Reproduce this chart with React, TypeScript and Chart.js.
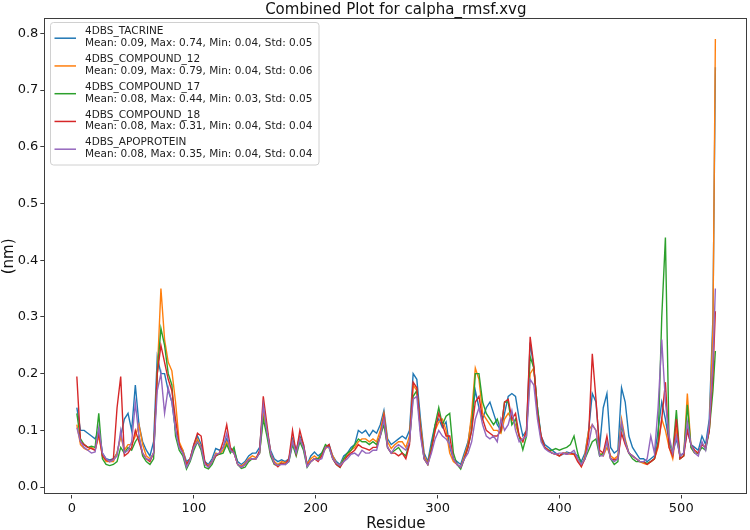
import { useEffect, useRef } from "react";
import { Chart, registerables } from "chart.js";

Chart.register(...registerables);

const TITLE = "Combined Plot for calpha_rmsf.xvg";
const X_LABEL = "Residue";
const Y_LABEL = "(nm)";
const X_TICKS = [0, 100, 200, 300, 400, 500];
const Y_TICKS = [0, 0.1, 0.2, 0.3, 0.4, 0.5, 0.6, 0.7, 0.8];

const RESIDUES = [
  4, 7, 10, 13, 16, 19, 22, 25, 28, 31,
  34, 37, 40, 43, 46, 49, 52, 55, 58, 61,
  64, 67, 70, 73, 76, 79, 82, 85, 88, 91,
  94, 97, 100, 103, 106, 109, 112, 115, 118, 121,
  124, 127, 130, 133, 136, 139, 142, 145, 148, 151,
  154, 157, 160, 163, 166, 169, 172, 175, 178, 181,
  184, 187, 190, 193, 196, 199, 202, 205, 208, 211,
  214, 217, 220, 223, 226, 229, 232, 235, 238, 241,
  244, 247, 250, 253, 256, 259, 262, 265, 268, 271,
  274, 277, 280, 283, 286, 289, 292, 295, 298, 301,
  304, 307, 310, 313, 316, 319, 322, 325, 328, 331,
  334, 337, 340, 343, 346, 349, 352, 355, 358, 361,
  364, 367, 370, 373, 376, 379, 382, 385, 388, 391,
  394, 397, 400, 403, 406, 409, 412, 415, 418, 421,
  424, 427, 430, 433, 436, 439, 442, 445, 448, 451,
  454, 457, 460, 463, 466, 469, 472, 475, 478, 481,
  484, 487, 490, 493, 496, 499, 502, 505, 508, 511,
  514, 517, 520, 523, 526, 528,
];

const TACRINE = [
  0.14, 0.10, 0.10, 0.095, 0.09, 0.085, 0.10, 0.06, 0.05, 0.048,
  0.05, 0.06, 0.09, 0.12, 0.13, 0.10, 0.18, 0.11, 0.08, 0.065,
  0.055, 0.08, 0.23, 0.20, 0.20, 0.17, 0.15, 0.10, 0.075, 0.065,
  0.045, 0.05, 0.075, 0.09, 0.075, 0.045, 0.04, 0.05, 0.068, 0.065,
  0.07, 0.085, 0.068, 0.065, 0.045, 0.04, 0.045, 0.055, 0.06, 0.06,
  0.07, 0.14, 0.10, 0.065, 0.05, 0.045, 0.048, 0.045, 0.05, 0.085,
  0.065, 0.09, 0.075, 0.04, 0.055, 0.062, 0.055, 0.06, 0.07, 0.075,
  0.055, 0.045, 0.04, 0.055, 0.06, 0.07, 0.075, 0.10, 0.095, 0.10,
  0.09, 0.10, 0.095, 0.11, 0.135, 0.085, 0.075, 0.08, 0.085, 0.09,
  0.085, 0.10, 0.20, 0.19, 0.12, 0.06, 0.045, 0.08, 0.11, 0.12,
  0.105, 0.115, 0.07, 0.05, 0.045, 0.04, 0.06, 0.08, 0.12, 0.17,
  0.14, 0.12, 0.14, 0.15, 0.13, 0.11, 0.10, 0.13, 0.16, 0.165,
  0.16, 0.12, 0.09, 0.10, 0.255, 0.21, 0.14, 0.09, 0.075, 0.07,
  0.065, 0.06, 0.055, 0.058, 0.062, 0.06, 0.06, 0.055, 0.045, 0.06,
  0.10, 0.165, 0.15, 0.07, 0.14, 0.165, 0.07, 0.06, 0.065, 0.175,
  0.15, 0.09, 0.07, 0.06, 0.05, 0.05, 0.045, 0.05, 0.055, 0.10,
  0.15, 0.12, 0.08, 0.06, 0.085, 0.055, 0.06, 0.10, 0.075, 0.07,
  0.065, 0.09, 0.075, 0.12, 0.30, 0.74,
];

const COMPOUND_12 = [
  0.11, 0.075, 0.068, 0.065, 0.07, 0.065, 0.09, 0.055, 0.045, 0.045,
  0.045, 0.06, 0.09, 0.065, 0.075, 0.075, 0.09, 0.11, 0.075, 0.055,
  0.05, 0.06, 0.20, 0.35, 0.26, 0.22, 0.205, 0.15, 0.08, 0.065,
  0.04, 0.05, 0.07, 0.085, 0.07, 0.04, 0.038, 0.045, 0.06, 0.058,
  0.065, 0.08, 0.065, 0.06, 0.04, 0.037, 0.042, 0.05, 0.055, 0.052,
  0.06, 0.13, 0.10, 0.06, 0.045, 0.04, 0.045, 0.043, 0.048, 0.08,
  0.06, 0.085, 0.07, 0.04, 0.05, 0.055, 0.05, 0.055, 0.068, 0.072,
  0.055, 0.042, 0.038, 0.05, 0.055, 0.065, 0.07, 0.08, 0.085, 0.085,
  0.08, 0.085, 0.08, 0.10, 0.13, 0.08, 0.068, 0.075, 0.08, 0.08,
  0.07, 0.09, 0.18, 0.17, 0.11, 0.055, 0.042, 0.07, 0.10, 0.115,
  0.12, 0.10, 0.06, 0.045, 0.04, 0.035, 0.055, 0.075, 0.13, 0.21,
  0.19, 0.13, 0.12, 0.11, 0.10, 0.10, 0.095, 0.12, 0.13, 0.12,
  0.11, 0.09, 0.08, 0.10, 0.20, 0.21, 0.13, 0.085, 0.07, 0.065,
  0.06, 0.058, 0.055, 0.06, 0.06, 0.058, 0.058, 0.05, 0.036, 0.055,
  0.10, 0.11, 0.10, 0.06, 0.055, 0.07, 0.055, 0.05, 0.055, 0.12,
  0.085, 0.06, 0.055, 0.05, 0.045, 0.042, 0.04, 0.045, 0.05, 0.07,
  0.12, 0.10, 0.07, 0.05, 0.10, 0.05, 0.055, 0.165, 0.07, 0.06,
  0.06, 0.075, 0.07, 0.10, 0.28, 0.79,
];

const COMPOUND_17 = [
  0.13, 0.085, 0.075, 0.07, 0.072, 0.07, 0.13, 0.05, 0.04, 0.038,
  0.04, 0.045, 0.07, 0.06, 0.07, 0.065, 0.08, 0.09, 0.055, 0.045,
  0.04, 0.05, 0.20, 0.28, 0.25, 0.20, 0.18, 0.09, 0.065, 0.055,
  0.032, 0.045, 0.065, 0.08, 0.065, 0.035, 0.032, 0.04, 0.055, 0.058,
  0.06, 0.075, 0.06, 0.07, 0.04, 0.033, 0.035, 0.045, 0.05, 0.05,
  0.06, 0.12, 0.09, 0.055, 0.04, 0.038, 0.042, 0.04, 0.045, 0.075,
  0.055, 0.08, 0.065, 0.035, 0.045, 0.05, 0.05, 0.06, 0.075, 0.07,
  0.05, 0.04, 0.035, 0.05, 0.06, 0.065, 0.075, 0.085, 0.08, 0.08,
  0.075, 0.08, 0.075, 0.09, 0.11, 0.07, 0.06, 0.065, 0.07, 0.06,
  0.055, 0.08, 0.16, 0.17, 0.10, 0.05, 0.04, 0.07, 0.11, 0.14,
  0.11, 0.125, 0.13, 0.06, 0.04, 0.032, 0.05, 0.07, 0.10, 0.20,
  0.20, 0.15, 0.13, 0.12, 0.11, 0.12, 0.10, 0.15, 0.15, 0.11,
  0.12, 0.09, 0.066, 0.09, 0.23, 0.21, 0.14, 0.085, 0.07, 0.065,
  0.065, 0.068, 0.065, 0.068, 0.07, 0.075, 0.09, 0.06, 0.04, 0.05,
  0.065, 0.08, 0.085, 0.055, 0.06, 0.08, 0.05, 0.04, 0.045, 0.11,
  0.08, 0.06, 0.05, 0.045, 0.045, 0.045, 0.042, 0.045, 0.05, 0.08,
  0.30, 0.44, 0.08, 0.06, 0.136, 0.05, 0.055, 0.145, 0.07, 0.06,
  0.06, 0.07, 0.065, 0.10, 0.17, 0.24,
];

const COMPOUND_18 = [
  0.195, 0.08, 0.075, 0.07, 0.068, 0.065, 0.095, 0.055, 0.048, 0.045,
  0.05, 0.14, 0.195, 0.055, 0.06, 0.07, 0.10, 0.08, 0.06, 0.05,
  0.045, 0.06, 0.20, 0.25, 0.22, 0.19, 0.17, 0.12, 0.075, 0.06,
  0.04, 0.05, 0.075, 0.095, 0.09, 0.045, 0.035, 0.045, 0.055, 0.06,
  0.08, 0.11, 0.07, 0.06, 0.04, 0.035, 0.04, 0.048, 0.05, 0.05,
  0.065, 0.16, 0.11, 0.06, 0.042, 0.036, 0.042, 0.04, 0.05, 0.10,
  0.06, 0.10, 0.075, 0.038, 0.045, 0.05, 0.045, 0.055, 0.07, 0.075,
  0.05, 0.04, 0.035, 0.045, 0.055, 0.06, 0.065, 0.075, 0.07, 0.068,
  0.065, 0.07, 0.07, 0.09, 0.125, 0.07, 0.06, 0.06, 0.055, 0.06,
  0.05, 0.075, 0.185, 0.175, 0.10, 0.05, 0.04, 0.065, 0.10, 0.13,
  0.11, 0.09, 0.09, 0.05, 0.04, 0.035, 0.05, 0.07, 0.10, 0.15,
  0.16, 0.12, 0.10, 0.095, 0.09, 0.09, 0.10, 0.15, 0.155, 0.12,
  0.13, 0.09, 0.08, 0.10, 0.265, 0.215, 0.13, 0.09, 0.07, 0.065,
  0.06, 0.058, 0.055, 0.06, 0.058, 0.06, 0.058, 0.045, 0.036, 0.05,
  0.09, 0.235, 0.155, 0.065, 0.06, 0.09, 0.05, 0.048, 0.05, 0.095,
  0.075, 0.06, 0.055, 0.05, 0.045, 0.045, 0.04, 0.045, 0.05, 0.075,
  0.12, 0.185, 0.07, 0.055, 0.12, 0.05, 0.055, 0.10, 0.075, 0.065,
  0.06, 0.075, 0.07, 0.10, 0.20, 0.31,
];

const APOPROTEIN = [
  0.105, 0.08, 0.07, 0.065, 0.06, 0.062, 0.105, 0.06, 0.05, 0.045,
  0.048, 0.055, 0.10, 0.06, 0.065, 0.08, 0.148, 0.09, 0.06, 0.05,
  0.048, 0.06, 0.17, 0.20, 0.13, 0.175, 0.15, 0.10, 0.07, 0.06,
  0.035, 0.048, 0.07, 0.08, 0.07, 0.04, 0.035, 0.045, 0.058, 0.06,
  0.07, 0.095, 0.065, 0.06, 0.04, 0.035, 0.04, 0.048, 0.05, 0.05,
  0.06, 0.145, 0.10, 0.06, 0.042, 0.038, 0.04, 0.04, 0.045, 0.08,
  0.06, 0.085, 0.07, 0.036, 0.045, 0.05, 0.048, 0.05, 0.07, 0.07,
  0.05, 0.042, 0.038, 0.045, 0.05, 0.058, 0.06, 0.055, 0.065, 0.06,
  0.06, 0.065, 0.065, 0.09, 0.12, 0.07, 0.06, 0.07, 0.075, 0.07,
  0.065, 0.08, 0.155, 0.16, 0.09, 0.05, 0.04, 0.06, 0.085, 0.10,
  0.09, 0.085, 0.075, 0.05, 0.04, 0.035, 0.05, 0.06, 0.08, 0.12,
  0.14, 0.11, 0.09, 0.085, 0.09, 0.08, 0.12, 0.10, 0.11, 0.135,
  0.10, 0.08, 0.085, 0.09, 0.19, 0.18, 0.12, 0.08, 0.068, 0.063,
  0.06, 0.058, 0.06, 0.06, 0.058, 0.06, 0.065, 0.05, 0.04, 0.05,
  0.075, 0.11, 0.10, 0.055, 0.055, 0.08, 0.05, 0.045, 0.05, 0.115,
  0.08, 0.06, 0.055, 0.05, 0.045, 0.045, 0.05, 0.09, 0.06, 0.14,
  0.26, 0.15, 0.09, 0.06, 0.09, 0.055, 0.06, 0.115, 0.075, 0.06,
  0.055, 0.08, 0.065, 0.11, 0.22, 0.35,
];

const SERIES_NAMES = [
  "4DBS_TACRINE",
  "4DBS_COMPOUND_12",
  "4DBS_COMPOUND_17",
  "4DBS_COMPOUND_18",
  "4DBS_APOPROTEIN",
];
const SERIES_STATS = [
  "Mean: 0.09, Max: 0.74, Min: 0.04, Std: 0.05",
  "Mean: 0.09, Max: 0.79, Min: 0.04, Std: 0.06",
  "Mean: 0.08, Max: 0.44, Min: 0.03, Std: 0.05",
  "Mean: 0.08, Max: 0.31, Min: 0.04, Std: 0.04",
  "Mean: 0.08, Max: 0.35, Min: 0.04, Std: 0.04",
];
const SERIES_VALUES = [TACRINE, COMPOUND_12, COMPOUND_17, COMPOUND_18, APOPROTEIN];
const COLORS = ["#1f77b4", "#ff7f0e", "#2ca02c", "#d62728", "#9467bd"];

const FONT = "'DejaVu Sans', 'Liberation Sans', sans-serif";

const decorPlugin = {
  id: "decor",
  afterDraw(chart: any) {
    const { ctx, chartArea: a } = chart;
    ctx.save();
    ctx.strokeStyle = "#3d3d3d";
    ctx.lineWidth = 1;
    ctx.strokeRect(Math.round(a.left) + 0.5, Math.round(a.top) + 0.5, Math.round(a.right - a.left) - 1, Math.round(a.bottom - a.top) - 1);

    ctx.fillStyle = "#111";
    ctx.font = `15px ${FONT}`;
    ctx.textAlign = "center";
    ctx.textBaseline = "alphabetic";
    const cx = (a.left + a.right) / 2;
    ctx.fillText(TITLE, cx, 14);
    ctx.fillText(X_LABEL, cx, 528);
    ctx.save();
    ctx.translate(9.5, (a.top + a.bottom) / 2);
    ctx.rotate(-Math.PI / 2);
    ctx.textBaseline = "middle";
    ctx.fillText(Y_LABEL, 0, 0);
    ctx.restore();

    const lx = 50.5, ly = 22.5, lw = 268.5, lh = 142.5, r = 3;
    ctx.beginPath();
    ctx.moveTo(lx + r, ly);
    ctx.lineTo(lx + lw - r, ly);
    ctx.arcTo(lx + lw, ly, lx + lw, ly + r, r);
    ctx.lineTo(lx + lw, ly + lh - r);
    ctx.arcTo(lx + lw, ly + lh, lx + lw - r, ly + lh, r);
    ctx.lineTo(lx + r, ly + lh);
    ctx.arcTo(lx, ly + lh, lx, ly + lh - r, r);
    ctx.lineTo(lx, ly + r);
    ctx.arcTo(lx, ly, lx + r, ly, r);
    ctx.closePath();
    ctx.fillStyle = "rgba(255,255,255,0.8)";
    ctx.fill();
    ctx.strokeStyle = "#d0d0d0";
    ctx.lineWidth = 1;
    ctx.stroke();

    ctx.textAlign = "left";
    ctx.textBaseline = "middle";
    ctx.font = `10.5px ${FONT}`;
    const step = 27.75;
    for (let i = 0; i < SERIES_NAMES.length; i++) {
      const y0 = 31.7 + i * step;
      ctx.strokeStyle = COLORS[i];
      ctx.lineWidth = 1.5;
      ctx.beginPath();
      ctx.moveTo(54.5, y0 + 6.5);
      ctx.lineTo(76, y0 + 6.5);
      ctx.stroke();
      ctx.fillStyle = "#222";
      ctx.fillText(SERIES_NAMES[i], 85, y0);
      ctx.fillText(SERIES_STATS[i], 85, y0 + 11.6);
    }
    ctx.restore();
  },
};

export default function App() {
  const canvasRef = useRef<HTMLCanvasElement | null>(null);

  useEffect(() => {
    if (!canvasRef.current) return;
    Chart.defaults.font.family = FONT;
    const datasets = SERIES_VALUES.map((vals, i) => ({
      label: SERIES_NAMES[i],
      data: RESIDUES.map((r, j) => ({ x: r, y: vals[j] })),
      borderColor: COLORS[i],
      backgroundColor: COLORS[i],
      borderWidth: 1.4,
      pointRadius: 0,
      tension: 0,
      fill: false,
      order: SERIES_NAMES.length - 1 - i,
    }));

    const chart = new Chart(canvasRef.current, {
      type: "line",
      data: { datasets },
      options: {
        animation: false,
        responsive: false,
        maintainAspectRatio: false,
        events: [],
        layout: { padding: { top: 18.3, right: 2.7, left: 0, bottom: 0 } },
        plugins: {
          legend: { display: false },
          title: { display: false },
          tooltip: { enabled: false },
        },
        scales: {
          x: {
            type: "linear",
            min: -22.7,
            max: 554.2,
            afterFit: (s: any) => {
              s.height = 35.5;
            },
            afterBuildTicks: (s: any) => {
              s.ticks = X_TICKS.map((v) => ({ value: v }));
            },
            ticks: {
              autoSkip: false,
              maxRotation: 0,
              padding: 2,
              color: "#111",
              font: { size: 13, family: FONT },
              callback: (v: any) => String(v),
            },
            grid: {
              display: true,
              drawOnChartArea: false,
              drawTicks: true,
              tickLength: 4,
              color: "#3d3d3d",
            },
            border: { display: false },
          },
          y: {
            type: "linear",
            min: -0.013,
            max: 0.8264,
            afterFit: (s: any) => {
              s.width = 44.3;
            },
            afterBuildTicks: (s: any) => {
              s.ticks = Y_TICKS.map((v) => ({ value: v }));
            },
            ticks: {
              autoSkip: false,
              padding: 2,
              color: "#111",
              font: { size: 13, family: FONT },
              callback: (v: any) => Number(v).toFixed(1),
            },
            grid: {
              display: true,
              drawOnChartArea: false,
              drawTicks: true,
              tickLength: 4,
              color: "#3d3d3d",
            },
            border: { display: false },
          },
        },
      },
      plugins: [decorPlugin],
    });
    return () => chart.destroy();
  }, []);

  return (
    <div style={{ position: "fixed", left: 0, top: 0, width: 750, height: 530, background: "#fff" }}>
      <canvas ref={canvasRef} width={750} height={530} style={{ display: "block" }} />
    </div>
  );
}
